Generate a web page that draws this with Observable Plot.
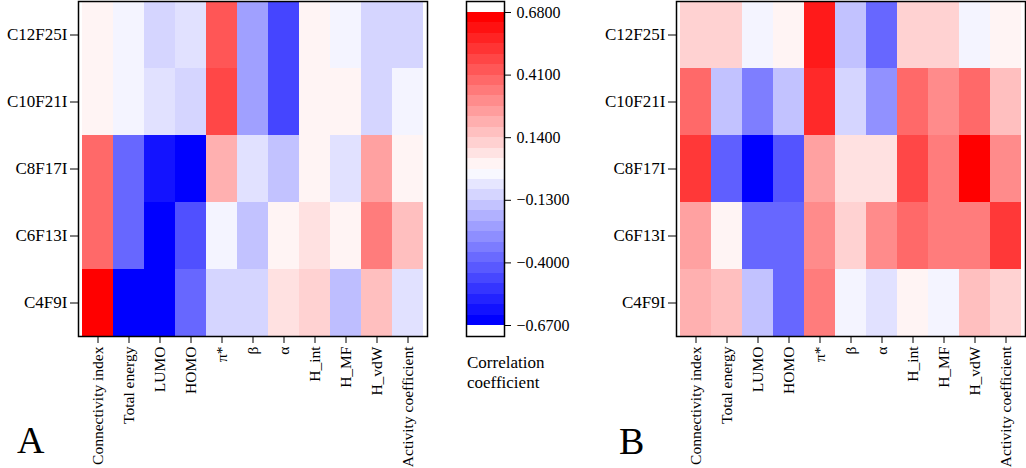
<!DOCTYPE html>
<html><head><meta charset="utf-8">
<script src="https://cdn.jsdelivr.net/npm/d3@7"></script>
<script src="https://cdn.jsdelivr.net/npm/@observablehq/plot@0.6"></script>
<style>
body{margin:0;background:#fff;}
#wrap{position:relative;width:1026px;height:468px;overflow:hidden;font-family:'Liberation Serif','DejaVu Serif',serif;color:#000;background:#fff;}
#wrap svg, #wrap svg text{font-family:'Liberation Serif','DejaVu Serif',serif !important;}
#wrap > div.p{position:absolute;top:0;}
.lbl{position:absolute;font-size:38px;line-height:38px;}
.ttl{position:absolute;font-size:17px;line-height:20px;left:467px;top:353px;}
</style></head><body>
<div id="wrap">
 <div class="p" id="pa" style="left:0px"></div>
 <div class="p" id="pl" style="left:440px"></div>
 <div class="p" id="pb" style="left:598px"></div>
 <div class="lbl" style="left:17px;top:421px">A</div>
 <div class="lbl" style="left:619px;top:422px">B</div>
 <div class="ttl">Correlation<br>coefficient</div>
</div>
<script>
const compounds = ["C12F25I","C10F21I","C8F17I","C6F13I","C4F9I"];
const descriptors = ["Connectivity index","Total energy","LUMO","HOMO","π*","β","α","H_int","H_MF","H_vdW","Activity coefficient"];
// panel A correlation coefficients (rows = compounds, cols = descriptors)
const valuesA = [
  [0.03,-0.03,-0.11,-0.08,0.45,-0.25,-0.49,0.03,-0.03,-0.11,-0.11],
  [0.03,-0.03,-0.08,-0.11,0.49,-0.25,-0.49,0.03,0.03,-0.11,-0.03],
  [0.40,-0.40,-0.62,-0.67,0.21,-0.08,-0.16,0.03,-0.08,0.25,0.03],
  [0.40,-0.40,-0.67,-0.46,-0.03,-0.16,0.03,0.08,0.03,0.35,0.17],
  [0.68,-0.67,-0.67,-0.40,-0.11,-0.11,0.08,0.12,-0.17,0.17,-0.08]
];
// panel B correlation coefficients
const valuesB = [
  [0.12,0.12,-0.03,0.03,0.61,-0.16,-0.40,0.12,0.12,-0.03,0.03],
  [0.40,-0.16,-0.34,-0.16,0.57,-0.11,-0.29,0.40,0.31,0.40,0.17],
  [0.53,-0.42,-0.67,-0.45,0.25,0.08,0.08,0.49,0.35,0.68,0.31],
  [0.25,0.03,-0.40,-0.40,0.31,0.12,0.31,0.40,0.35,0.35,0.53],
  [0.21,0.17,-0.16,-0.40,0.35,-0.03,-0.08,0.03,-0.03,0.17,0.12]
];
const legendTicks = [0.68,0.41,0.14,-0.13,-0.40,-0.67];
const legendMin = -0.67, legendMax = 0.68, legendSteps = 30;

const FONT = "'Liberation Serif','DejaVu Serif',serif";
const colorOpts = {type:"linear", domain:[legendMin,0,legendMax], range:["#0000ff","#ffffff","#ff0000"], interpolate:"rgb", clamp:true};

function heat(values, width, mr){
  const data = compounds.flatMap((c,i)=>descriptors.map((d,j)=>({c,d,v:values[i][j]})));
  return Plot.plot({
    width, height:468, marginLeft:78, marginRight:mr, marginTop:1, marginBottom:132,
    style:{fontFamily:FONT, background:"transparent", color:"#000", overflow:"visible"},
    x:{domain:descriptors, padding:0, label:null, axis:null},
    y:{domain:compounds, padding:0, label:null, axis:null},
    color: colorOpts,
    marks:[
      Plot.cell(data,{x:"d",y:"c",fill:"v", inset:0, shapeRendering:"crispEdges"}),
      Plot.frame({stroke:"#000", strokeWidth:1.5}),
      Plot.axisX({tickRotate:-90, tickSize:7, tickPadding:3, fontSize:15.5, fontFamily:FONT, label:null}),
      Plot.axisY({tickSize:8, tickPadding:3, fontSize:17, fontFamily:FONT, label:null})
    ]
  });
}

document.getElementById("pa").append(heat(valuesA, 430, 3));
document.getElementById("pb").append(heat(valuesB, 428, 1));

const legendData = d3.range(legendSteps).map(i=>({
  y1: legendMin+(legendMax-legendMin)*i/legendSteps,
  y2: legendMin+(legendMax-legendMin)*(i+1)/legendSteps,
  v: legendMin+(legendMax-legendMin)*i/(legendSteps-1)
}));
const pad = 0.0474;
document.getElementById("pl").append(Plot.plot({
  width:150, height:468, marginLeft:26, marginRight:86, marginTop:1, marginBottom:132,
  style:{fontFamily:FONT, background:"transparent", color:"#000", overflow:"visible"},
  x:{domain:[0,1], axis:null},
  y:{domain:[legendMin-pad, legendMax+pad], axis:null},
  color: colorOpts,
  marks:[
    Plot.rect(legendData,{x1:0,x2:1,y1:"y1",y2:"y2",fill:"v", shapeRendering:"crispEdges"}),
    Plot.frame({stroke:"#000", strokeWidth:1.5}),
    Plot.axisY({anchor:"right", ticks:legendTicks, tickFormat:d3.format(".4f"), tickSize:6, tickPadding:6, fontSize:16, fontFamily:FONT, label:null})
  ]
}));
</script>
</body></html>
